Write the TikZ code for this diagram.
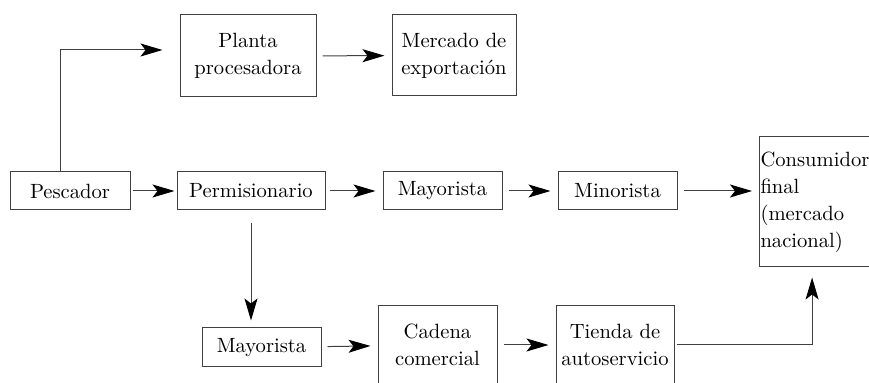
\documentclass[tikz,border=0pt]{standalone}
\usepackage{tikz}
\usetikzlibrary{arrows.meta,positioning,calc}
\tikzstyle{caja}=[draw=black!75, line width=0.5pt, inner sep=1pt, align=center, minimum height=19pt, minimum width=59.5pt, font=\fontsize{10.3}{13.5}\selectfont]
\tikzstyle{flecha}=[draw=black!75, line width=0.5pt, -{Stealth[length=11pt,width=6.5pt,inset=2.5pt,color=black]}, shorten <=3pt, shorten >=3.5pt]

\begin{document}
\begin{tikzpicture}[x=0.5pt,y=-0.5pt]
		\useasboundingbox (0,0) rectangle (869,383);
		\node[caja,minimum width=68pt,minimum height=41pt](planta)at(248,56){Planta\\procesadora};
		\node[caja,minimum width=62pt,minimum height=40.5pt](mercado)at(454,55.5){Mercado de\\exportación};
		\node[caja,minimum width=60pt](pescador)at(70,191){Pescador};
		\node[caja,minimum width=74pt](permisionario)at(251,191){Permisionario};
		\node[caja](mayorista)at(442.5,191){Mayorista};
		\node[caja](minorista)at(617.5,191){Minorista};
		\node[caja,text width=70pt,align=left,minimum height=65pt,inner sep=0.5pt](consumidor)at(830.5,202){Consumidor\\final\\(mercado\\nacional)};
		\node[caja,minimum height=19.5pt](mayoristab)at(261.5,347.5){Mayorista};
		\node[caja,minimum height=39pt](cadena)at(437.5,345){Cadena\\comercial};
		\node[caja,minimum width=59pt,minimum height=39pt](tienda)at(615,345){Tienda de\\autoservicio};
		\draw[flecha,shorten <=0pt,shorten >=8.5pt]([xshift=-5pt]pescador.north)|-([yshift=3pt]planta.west);
		\draw[flecha](planta)--(mercado);
		\draw[flecha,shorten <=1pt,shorten >=1pt](pescador)--(permisionario);
		\draw[flecha,shorten <=2pt](permisionario)--(mayorista);
		\draw[flecha](mayorista)--(minorista);
		\draw[flecha](minorista)--(consumidor.west|-minorista);
		\draw[flecha,shorten <=6.5pt](permisionario.south)--(permisionario.south|-mayoristab.north);
		\draw[flecha](mayoristab)--(cadena);
		\draw[flecha](cadena)--(tienda);
		\draw[flecha,shorten <=1pt,shorten >=5pt](tienda.east)-|([xshift=-9.2pt]consumidor.south);
\end{tikzpicture}
\end{document}
